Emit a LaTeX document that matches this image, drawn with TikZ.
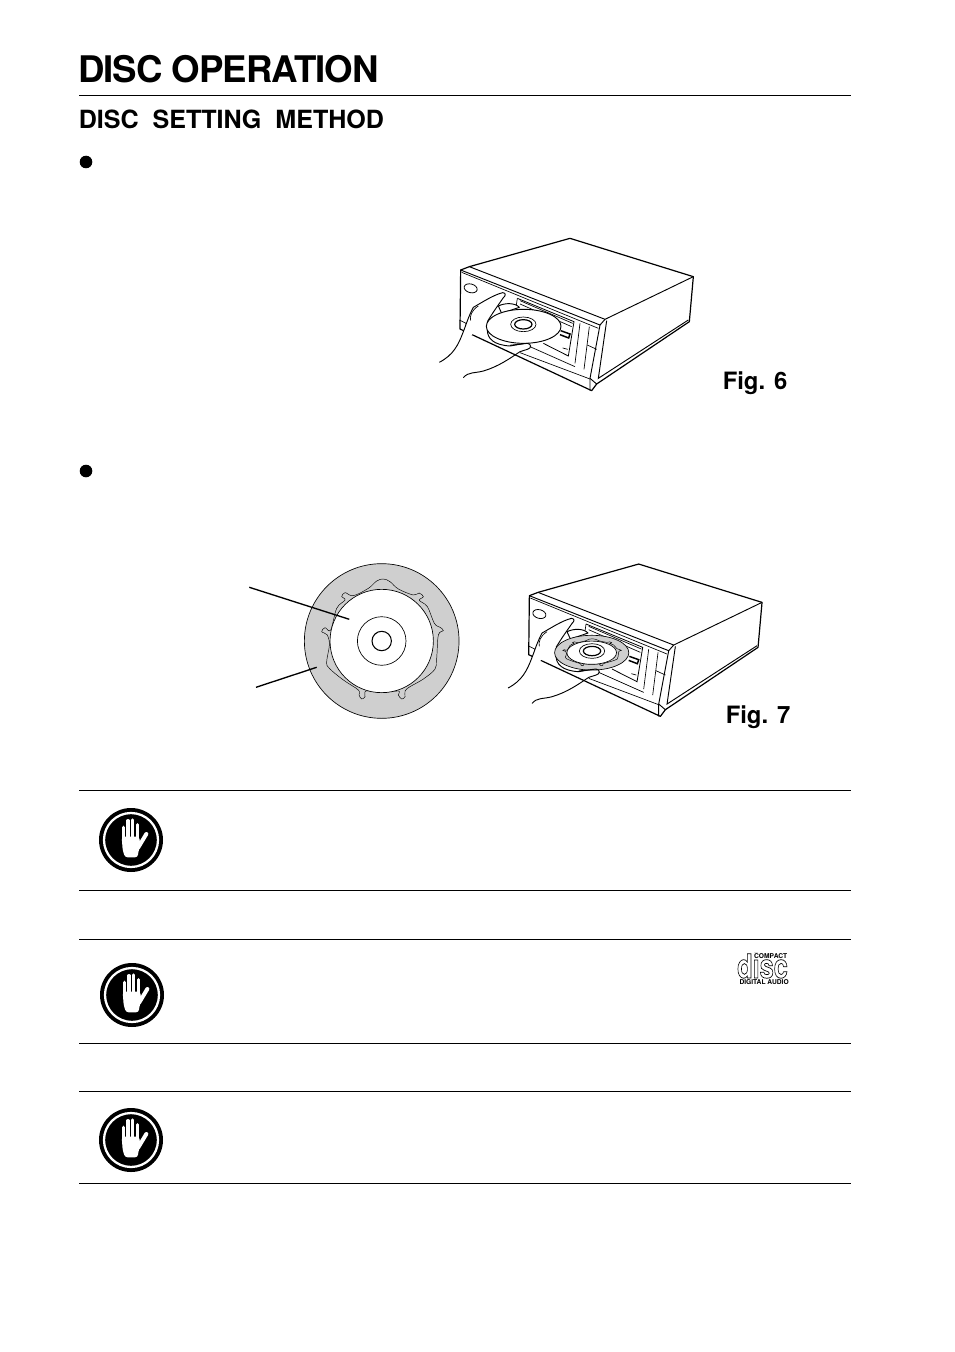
\documentclass[tikz,border=0pt]{standalone}
\usepackage{fontspec}
\setmainfont{TeX Gyre Heros}
\newfontfamily\titlefont[LetterSpace=-2.8]{TeX Gyre Heros}
\usetikzlibrary{positioning}

\tikzset{
    rulex/.style={line width=0.7pt},
    heading/.style={anchor=west,inner sep=0pt,font=\bfseries},
    figlabel/.style={anchor=west,inner sep=0pt,font=\fontsize{17.9}{20}\selectfont\bfseries},
    leader/.style={line width=1pt},
    tiny logo/.style={inner sep=0pt,font=\fontsize{5}{5}\selectfont\bfseries},
    pics/deckbox/.style={code={
        \draw[line width=0.9pt,fill=white,line join=round] (92,120) -- (118,110) -- (420,25) -- (790,140) -- (778,275) -- (500,462) -- (485,482) -- (90,297) -- cycle;
        \draw[line width=0.7pt] (118,110) -- (525,268) -- (790,140);
        \draw[line width=0.7pt] (92,120) -- (510,285) -- (525,268);
        \draw[line width=0.5pt] (95,127) -- (505,295);
        \draw[line width=0.7pt] (530,272) -- (505,445) -- (775,270);
        \draw[line width=0.7pt] (510,285) -- (480,445) -- (480,482);
        \draw[line width=0.7pt] (480,445) -- (500,462);
        \draw[line width=0.5pt] (450,280) -- (435,400);
        \draw[line width=0.5pt] (478,290) -- (462,418);
        \draw[line width=0.5pt] (472,345) -- (500,358);
        \draw[line width=0.5pt] (88,270) -- (108,280) -- (105,305);
        \draw[line width=0.5pt] (270,368) -- (480,447);
        \draw[line width=0.5pt] (300,350) -- (435,410);
        \draw[line width=0.5pt] (262,205) -- (258,232);
        \draw[line width=0.6pt] (262,205) -- (432,275) -- (415,378) -- (340,340);
        \draw[line width=0.5pt] (270,212) -- (428,280);
        \draw[line width=0.5pt] (270,222) -- (425,290);
        \draw[line width=1.1pt] (392,302) -- (420,312) -- (416,324) -- (390,314);
        \draw[line width=0.5pt] (398,354) -- (413,358);
        \draw[line width=0.6pt,rotate around={-15:(122,175)}] (122,175) ellipse (20 and 13);
    }},
    pics/deckhand/.style={code={
        \draw[line width=0.7pt,fill=white,line join=round] (205,228) .. controls (225,218) and (255,218) .. (268,232) -- (215,250) -- cycle;
        \draw[line width=0.7pt,fill=white,line join=round] (28,397) .. controls (70,375) and (85,345) .. (100,305) .. controls (108,285) and (115,260) .. (130,232) .. controls (160,215) and (190,195) .. (218,188) .. controls (228,188) and (228,197) .. (220,203) .. controls (205,225) and (190,245) .. (172,275);
        \draw[line width=0.5pt] (145,228) .. controls (125,240) and (118,260) .. (122,272);
        \draw[line width=0.7pt,fill=white] (172,300) .. controls (172,325) and (190,345) .. (240,348) -- (285,340) -- (240,330) -- cycle;
    }},
    pics/deckthumb/.style={code={
        \draw[line width=0.7pt,line join=round] (100,443) .. controls (115,425) and (135,430) .. (160,423) .. controls (205,410) and (240,385) .. (270,365) -- (292,358) .. controls (305,355) and (305,342) .. (292,340) -- (240,346);
    }},
    pics/deckdisc/.style={code={
        \draw[line width=0.7pt,fill=white] (281,289) ellipse (112 and 51);
    }},
    pics/deckhub/.style={code={
        \draw[line width=0.5pt] (280,283) ellipse (38 and 22);
        \draw[line width=0.9pt] (280,283) ellipse (26 and 14);
    }},
    pics/lobering/.style={code={
        \begin{scope}[shift={(-425,-258)}]
            \draw[line width=0.5pt,fill=black!19] (425,258) circle (232);
            \draw[line width=0.35pt] plot[smooth cycle,tension=0.6] coordinates {(385,100) (410,78) (430,72) (450,80) (475,102) (520,120) (537,114) (550,125) (538,136) (562,155) (583,205) (600,217) (610,227) (595,240) (590,310) (585,342) (550,372) (510,395) (495,408) (495,425) (485,432) (475,420) (475,408) (425,412) (378,408) (375,425) (365,432) (357,420) (355,405) (310,375) (268,340) (260,320) (268,270) (262,240) (245,230) (255,218) (272,225) (290,160) (315,135) (305,125) (315,113) (340,122)};
            \draw[line width=0.5pt,fill=white] (425,258) circle (155);
        \end{scope}
    }},
    pics/stophand/.style={code={
        \fill (0,0) circle (96);
        \draw[white,line width=1.7pt] (0,0) circle (81);
        \fill[white,rounded corners=2pt] (-28,-10) -- (25,-10) -- (28,18) -- (22,35) -- (20,52) -- (-18,52) -- (-25,30) -- cycle;
        \foreach \fx/\ftop in {-23/-38,-9/-58,5/-60,19/-46}
            \draw[white,line width=2.5pt,line cap=round] (\fx,0) -- (\fx,\ftop);
        \draw[white,line width=3pt,line cap=round] (22,22) -- (46,-18);
    }},
}

\begin{document}
\begin{tikzpicture}[x=0.75pt,y=-0.75pt]
    \useasboundingbox (0,0) rectangle (954,1352);

    % headings
    \node[heading,font=\titlefont\fontsize{27.5}{32}\selectfont\bfseries] (title) at (78,69) {DISC OPERATION};
    \node[heading,font=\fontsize{18.8}{22}\selectfont\bfseries] (subtitle) at (78.5,119) {DISC\ \ SETTING\ \ METHOD};

    % rules
    \foreach \ry in {95,790,890,939,1043,1091,1183}
        \draw[rulex] (79,\ry) -- (851,\ry);

    \fill (86,162) circle (6.3);
    \fill (86,471) circle (6.3);

    % Fig. 6
    \pic[scale=1/3] at (430,230) {deckbox};
    \pic[scale=1/3] at (430,230) {deckhand};
    \pic[scale=1/3] at (430,230) {deckdisc};
    \pic[scale=1/3] at (430,230) {deckhub};
    \pic[scale=1/3] at (430,230) {deckthumb};
    \node[figlabel] (figsix) at (722.5,383) {Fig. 6};

    % disc on its own
    \pic[scale=1/3] at (381.7,641) {lobering};
    \draw[line width=0.5pt] (381.7,641) circle (24.3);
    \draw[line width=0.8pt] (381.7,641) circle (9.7);
    \coordinate (leadAa) at (249.3,587.3);
    \coordinate (leadAb) at (349.3,619.3);
    \coordinate (leadBa) at (256,687.3);
    \coordinate (leadBb) at (316.7,667.3);
    \draw[leader] (leadAa) -- (leadAb);
    \draw[leader] (leadBa) -- (leadBb);

    % Fig. 7
    \pic[scale=1/3] at (498.7,555.7) {deckbox};
    \pic[scale=1/3] at (498.7,555.7) {deckhand};
    \pic[xscale=0.16,yscale=0.075] at (591.7,652.7) {lobering};
    \pic[scale=1/3] at (498.7,556.7) {deckhub};
    \pic[scale=1/3] at (498.7,555.7) {deckthumb};
    \node[figlabel] (figseven) at (725.5,717) {Fig. 7};

    % warning hands
    \pic[scale=1/3] at (131,840) {stophand};
    \pic[scale=1/3] at (132,995) {stophand};
    \pic[scale=1/3] at (131,1140) {stophand};

    % disc logo
    \node[inner sep=0pt,anchor=south,font=\fontsize{25}{25}\selectfont\bfseries] (logodisc) at (762.5,978.5) {\scalebox{0.76}[1]{\special{pdf:code q 1 Tr 0.55 w}disc\special{pdf:code Q}}};
    \node[tiny logo,anchor=east,fill=white,inner sep=0.4pt] (logotop) at (788,956) {COMPACT};
    \node[tiny logo,anchor=east] (logobot) at (789,982) {DIGITAL AUDIO};
\end{tikzpicture}
\end{document}
